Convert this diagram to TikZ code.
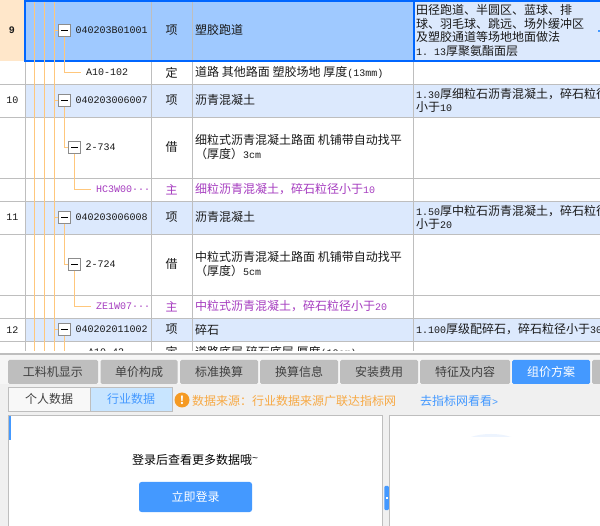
\documentclass[tikz,border=0pt]{standalone}
\usepackage{fontspec}
\setmainfont{Noto Sans CJK SC}
\newfontfamily\latinfont{Liberation Mono}
\newcommand{\mn}[1]{{\fontsize{10}{12}\latinfont #1}}
\definecolor{gridgray}{HTML}{BEBEBE}
\definecolor{rowblue}{HTML}{DCE9FD}
\definecolor{selblue}{HTML}{9FC9FF}
\definecolor{edgeblue}{HTML}{0066FF}
\definecolor{peach}{HTML}{FFE7CA}
\definecolor{treeorange}{HTML}{FFC77C}
\definecolor{mainpurple}{HTML}{A63DC0}
\definecolor{tabgray}{HTML}{BEBEBE}
\definecolor{btnblue}{HTML}{4499FF}
\definecolor{panelgray}{HTML}{F0F0F0}
\definecolor{subblue}{HTML}{C8E5FF}
\definecolor{warnorange}{HTML}{F59A23}
\tikzset{
  cell/.style={anchor=west, inner sep=0pt, font=\fontsize{12}{13.6}\selectfont, text=black!90},
  mid/.style={cell, anchor=center},
  wrapcell/.style={cell, align=left},
  main/.style={text=mainpurple},
  treebox/.style={rectangle, draw=black!45, fill=white, line width=0.8pt, minimum width=12pt, minimum height=12pt, inner sep=0pt},
  tree/.style={draw=treeorange, line width=1pt},
  gridline/.style={draw=gridgray, line width=1pt},
  tabbox/.style={rectangle, rounded corners=1.5pt, fill=tabgray, minimum height=24pt, inner sep=0pt, font=\fontsize{12}{14}\selectfont, text=black!75},
  subtab/.style={rectangle, draw=gridgray, line width=0.8pt, minimum width=82pt, minimum height=24pt, inner sep=0pt, font=\fontsize{12}{14}\selectfont},
  panel/.style={draw=gridgray, line width=0.8pt}
}
\begin{document}
\begin{tikzpicture}[x=1pt, y=-1pt]
  \useasboundingbox (0,0) rectangle (600,526);
  \fill[white] (0,0) rectangle (600,526);
  \begin{scope}
  \clip (0,0) rectangle (600,351);
  % Rows
  \fill[peach] (0,0) rectangle (25,61);
  \fill[selblue] (25,0) rectangle (413,61);
  \fill[rowblue] (413,0) rectangle (600,61);
  \fill[rowblue] (25,84) rectangle (600,117);
  \fill[rowblue] (25,201) rectangle (600,234);
  \fill[rowblue] (25,318) rectangle (600,341);
  % Grid
  \foreach \y in {84.5,117.5,178.5,201.5,234.5,295.5,318.5,341.5}
    \draw[gridline] (0,\y) -- (600,\y);
  \foreach \x in {25.5,151.5,192.5,413.5}
    \draw[gridline] (\x,61) -- (\x,351);
  \foreach \x in {151.5,192.5}
    \draw[gridline] (\x,0) -- (\x,61);
  \draw[edgeblue, line width=2pt] (600,1) -- (25,1) -- (25,61) -- (600,61);
  \draw[edgeblue, line width=2pt] (413.8,1) -- (413.8,61);
  \fill[btnblue] (598,30) rectangle (600,32);
  % Guides
  \coordinate (guideA) at (34.5,2);
  \coordinate (guideB) at (44.5,2);
  \coordinate (guideC) at (54.5,2);
  \foreach \g in {guideA,guideB,guideC}
    \draw[tree] (\g) -- (\g |- 0,351);
  % Row numbers
  \node (num9) [mid] at (12,30) {\mn{\textbf{9}}};
  \node (num10) [mid] at (12.5,100) {\mn{10}};
  \node (num11) [mid] at (12.5,217) {\mn{11}};
  \node (num12) [mid] at (12.5,330) {\mn{12}};
  % Tree boxes
  \node (box9) [treebox] at (64.5,30.5) {\rule{7pt}{1pt}};
  \node (box10) [treebox] at (64.5,100.5) {\rule{7pt}{1pt}};
  \node (box734) [treebox] at (74.5,147.5) {\rule{7pt}{1pt}};
  \node (box11) [treebox] at (64.5,217.5) {\rule{7pt}{1pt}};
  \node (box724) [treebox] at (74.5,264.5) {\rule{7pt}{1pt}};
  \node (box12) [treebox] at (64.5,329.5) {\rule{7pt}{1pt}};
  \coordinate (end9) at (81,72.5);
  \coordinate (end734) at (91,189.5);
  \coordinate (end724) at (91,306.5);
  \coordinate (end12) at (64.5,351);
  % Codes
  \node (code9) [cell] at (75.5,30) {\mn{040203B01001}};
  \node (codeA) [cell] at (86,72) {\mn{A10-102}};
  \node (code10) [cell] at (75.5,100) {\mn{040203006007}};
  \node (code734) [cell] at (85.5,147) {\mn{2-734}};
  \node (codeHC) [cell, main] at (96,189) {\mn{HC3W00\textperiodcentered\textperiodcentered\textperiodcentered}};
  \node (code11) [cell] at (75.5,217) {\mn{040203006008}};
  \node (code724) [cell] at (85.5,264) {\mn{2-724}};
  \node (codeZE) [cell, main] at (96,306) {\mn{ZE1W07\textperiodcentered\textperiodcentered\textperiodcentered}};
  \node (code12) [cell] at (75.5,329) {\mn{040202011002}};
  \node (codeB) [cell] at (88,352) {\mn{A10-43}};
  % Arrow
  \draw[tree] (box9.south) |- (end9);
  \draw[tree] (box10.south) |- (box734.west);
  \draw[tree] (box734.south) |- (end734);
  \draw[tree] (box11.south) |- (box724.west);
  \draw[tree] (box724.south) |- (end724);
  \draw[tree] (box12.south) -- (end12);
  \draw[tree] (box9.west) -- (box9.west -| guideC);
  \draw[tree] (box10.west) -- (box10.west -| guideC);
  \draw[tree] (box11.west) -- (box11.west -| guideC);
  \draw[tree] (box12.west) -- (box12.west -| guideC);
  % Units
  \node (unit9) [mid] at (171.5,30) {项};
  \node (unitA) [mid] at (171.5,72.5) {定};
  \node (unit10) [mid] at (171.5,100) {项};
  \node (unit734) [mid] at (171.5,147) {借};
  \node (unitHC) [mid, main] at (171.5,189.5) {主};
  \node (unit11) [mid] at (171.5,217) {项};
  \node (unit724) [mid] at (171.5,264) {借};
  \node (unitZE) [mid, main] at (171.5,306.5) {主};
  \node (unit12) [mid] at (171.5,329) {项};
  \node (unitB) [mid] at (171.5,352) {定};
  % Names
  \node (name9) [cell] at (195,30) {塑胶跑道};
  \node (nameA) [cell] at (195,72.5) {道路\ 其他路面\ 塑胶场地\ 厚度\mn{(13mm)}};
  \node (name10) [cell] at (195,100) {沥青混凝土};
  \node (name734) [wrapcell] at (195,147) {细粒式沥青混凝土路面\ 机铺带自动找平\\（厚度）\mn{3cm}};
  \node (nameHC) [cell, main] at (195,189.5) {细粒沥青混凝土，碎石粒径小于\mn{10}};
  \node (name11) [cell] at (195,217) {沥青混凝土};
  \node (name724) [wrapcell] at (195,264) {中粒式沥青混凝土路面\ 机铺带自动找平\\（厚度）\mn{5cm}};
  \node (nameZE) [cell, main] at (195,306.5) {中粒式沥青混凝土，碎石粒径小于\mn{20}};
  \node (name12) [cell] at (195,329.5) {碎石};
  \node (nameB) [cell] at (195,352) {道路底层\ 碎石底层\ 厚度\mn{(10cm)}};
  % Features
  \node (feat9) [wrapcell] at (416,30.5) {田径跑道、半圆区、蓝球、排\\球、羽毛球、跳远、场外缓冲区\\及塑胶通道等场地地面做法\\\mn{1.\ 13}厚聚氨酯面层};
  \node (feat10) [wrapcell] at (416,100.5) {\mn{1.30}厚细粒石沥青混凝土，碎石粒径\\小于\mn{10}};
  \node (feat11) [wrapcell] at (416,217.5) {\mn{1.50}厚中粒石沥青混凝土，碎石粒径\\小于\mn{20}};
  \node (feat12) [cell] at (416,329.5) {\mn{1.100}厚级配碎石，碎石粒径小于\mn{30}};
  \end{scope}
  % Lower panel
  \fill[panelgray] (0,353) rectangle (600,526);
  \fill[gridgray] (0,353) rectangle (600,355.5);
  \fill[panelgray!60!white] (0,355.5) rectangle (600,384);
  % Tabs
  \node (tabA) [tabbox, minimum width=90pt] at (53,372) {工料机显示};
  \node (tabB) [tabbox, minimum width=77pt] at (139,372) {单价构成};
  \node (tabC) [tabbox, minimum width=78pt] at (219,372) {标准换算};
  \node (tabD) [tabbox, minimum width=78pt] at (299,372) {换算信息};
  \node (tabE) [tabbox, minimum width=78pt] at (379,372) {安装费用};
  \node (tabF) [tabbox, minimum width=90pt] at (465,372) {特征及内容};
  \node (tabG) [tabbox, minimum width=78pt, fill=btnblue, text=white] at (551,372) {组价方案};
  \begin{scope}
  \clip (0,354) rectangle (600,526);
  \node (tabH) [tabbox, minimum width=20pt] at (602,372) {};
  \end{scope}
  % Sub tabs
  \node (subA) [subtab, fill=panelgray!50!white, text=black!75] at (49,399) {个人数据};
  \node (subB) [subtab, fill=subblue, text=btnblue] at (131,399) {行业数据};
  \node (warn) [circle, fill=warnorange, text=white, minimum size=15pt, inner sep=0pt, font=\fontsize{11}{11}\bfseries] at (182,400) {!};
  \node (source) [cell, text=warnorange!85!white, anchor=west] at (192,401) {数据来源：行业数据来源广联达指标网};
  \node (goto) [cell, text=btnblue] at (420,401) {去指标网看看\mn{>}};
  % Panels
  \fill[white] (8.5,415.5) rectangle (382.5,526);
  \fill[white] (389.5,415.5) rectangle (600,526);
  \draw[panel] (8.5,526) -- (8.5,415.5) -- (382.5,415.5) -- (382.5,526);
  \draw[panel] (600,415.5) -- (389.5,415.5) -- (389.5,526);
  \fill[btnblue] (8.5,416) rectangle (10.5,440);
  \fill[rowblue!50!white] (471,437) .. controls (483,433) and (499,433) .. (511,437) -- cycle;
  \node (handle) [rectangle, rounded corners=1pt, fill=btnblue, minimum width=4.5pt, minimum height=24pt, inner sep=0pt] at (386.5,498) {};
  \node (dot) [rectangle, fill=white, minimum size=2pt, inner sep=0pt] at (386.5,498) {};
  % Login
  \node (hint) [mid, text=black] at (195,460) {登录后查看更多数据哦\raisebox{3pt}{\mn{\textasciitilde}}};
  \node (login) [rectangle, rounded corners=2.5pt, fill=btnblue, text=white, minimum width=113pt, minimum height=30pt, inner sep=0pt, font=\fontsize{12}{14}\selectfont] at (195.5,497) {立即登录};
\end{tikzpicture}
\end{document}
